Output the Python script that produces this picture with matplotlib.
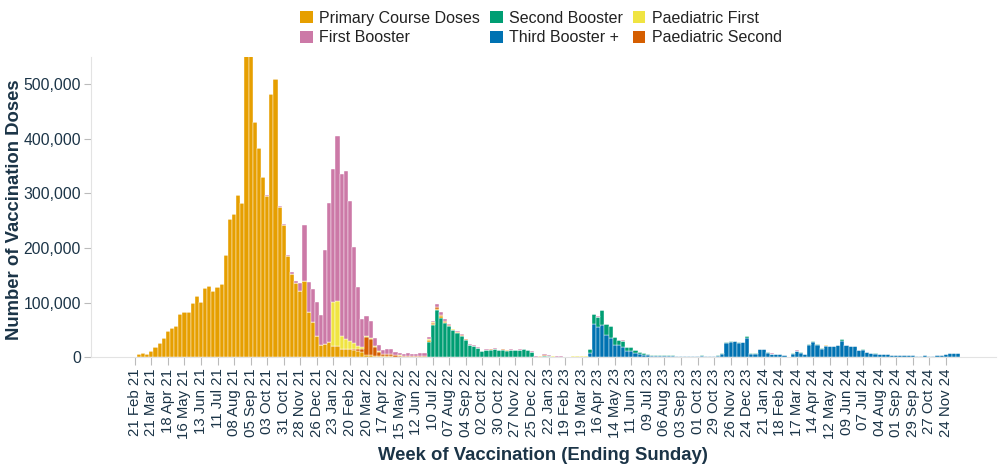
import numpy as np
import pandas as pd
import matplotlib
matplotlib.use("Agg")
import matplotlib.pyplot as plt
from matplotlib.patches import Patch
from matplotlib.ticker import FuncFormatter

# weekly doses (thousands), week ending Sunday, 21 Feb 21 -> 15 Dec 24 (200 weeks)
first_week = "2021-02-21"
n_weeks = 200

primary = ([0, 5.5, 8, 6.5, 12, 19, 27, 36, 48, 54,
            58, 80, 84, 83, 100, 112, 101, 127, 131, 121,
            128, 134, 187, 253, 263, 298, 282, 560, 560, 430,
            383, 331, 296, 482, 509, 276, 243, 186, 153, 137,
            121, 140, 84, 64, 39, 22, 24, 29, 21, 21,
            16, 14, 13, 12, 10, 8, 3, 2.5, 2, 1.5,
            1.2, 1.2, 1.2, 1, 1, 0.8, 1, 0.8, 0.8, 0.8,
            0.8, 2, 2, 2.5, 2, 1.5, 1, 0.5, 1, 1,
            0.7, 0.5, 0.5, 0.4, 0.3, 0.3, 0.3, 0.3, 0.3, 0.3,
            0.3, 0.3, 0.3, 0.3, 0.3, 0.3, 0.3, 0.2, 0.3, 0.5,
            0.3, 0.2, 0.2, 0.1, 0.1, 0.1, 0.2, 0.2, 0.2, 0.2,
            0.2, 0.3, 0.3, 0.3, 0.3, 0.3, 0.2, 0.2, 0.2, 0.1]
           + [0.1] * 80)

first_booster = ([0] * 32
                 + [2, 0.5, 0.5, 0.5, 1, 1.5, 2.5, 3,
                    16, 103, 53.5, 61, 62, 56, 172, 254, 244, 303,
                    296, 308, 256, 176, 108, 52, 36, 31, 15, 12,
                    7.5, 8.5, 9, 5, 4.5, 4, 5, 4.4, 4.4, 5.5,
                    5.8, 4.5, 3.5, 5, 5, 3.5, 2.5, 1, 1.5, 1.5,
                    1, 0.8, 0.7, 0.5, 0.3, 0.5, 0.5, 0.5, 0.5, 0.5,
                    0.5, 0.5, 0.5, 0.5, 0.5, 0.5, 1, 0.5, 0.8, 1.5,
                    1, 0.5, 0.5, 0.4, 0.3, 0.3, 0.5, 0.5, 0.5, 0.5,
                    0.2, 0.5, 0.5, 0.5, 0.5, 0.4, 0.3, 0.3, 0.3, 0.2]
                 + [0.1] * 80)

second_booster = ([0] * 51
                  + [1.5, 1.5, 1.5, 1.5, 1.5, 1.5, 1.5, 1, 1,
                     0.5, 0.5, 0.5, 0.3, 0.3, 0.3, 0.3, 0.3, 0.3, 0.3,
                     0.3, 29, 60, 87, 73, 63, 57, 50, 45, 39,
                     32, 22, 20, 17, 11, 13.5, 14, 15.5, 13, 14,
                     12.5, 13.5, 13, 13.5, 14.5, 13, 9.5, 1, 1.5, 3,
                     2.5, 1.2, 1, 1, 0.6, 0.6, 1.2, 1.2, 1.2, 1.3,
                     7, 17, 19.5, 26, 19.5, 21.5, 13, 9.5, 11.5, 7.5,
                     7.5, 6, 4, 2.5, 1.8, 1.5, 1.5, 1.4, 1.4, 1.4,
                     1.4, 1, 1, 0.8, 0.8, 0.8, 1, 1.2, 1, 0.8,
                     0.8, 1, 2, 2, 1.8, 1, 1, 1, 3.5, 0.5,
                     0.5, 0.5, 0.5, 0.5, 0.5, 0.3, 0.3, 0.3, 0.1, 0.5,
                     0.5, 0.5, 0.3, 1, 2.5, 1, 0.5, 0.8, 0.8, 0.8,
                     1, 3.5, 1, 0.8, 0.8, 0.5, 0.5, 0.3, 0.3, 0.3]
                  + [0.2] * 20)

third_booster = ([0] * 110
                 + [8.5, 62, 55, 60, 41, 36, 23.5, 22, 19, 11,
                    11, 7.6, 5.8, 5, 4.5, 3, 3, 2.5, 2.5, 2.5,
                    2.5, 2.3, 2.3, 1.8, 1.8, 1.8, 2.3, 2.7, 2.3, 1.8,
                    1.8, 3.5, 5.5, 25.5, 28, 29.5, 26.5, 27.5, 36, 7,
                    7, 15, 15.5, 9, 6.5, 6, 6, 3.7, 1.3, 7,
                    12, 9, 6, 23.5, 28, 23.5, 16.2, 21, 20, 20,
                    22.3, 29.3, 22.3, 20.7, 20, 13.3, 14.3, 10.2, 8.3, 7.1,
                    6.6, 6, 5.4, 4.8, 4.2, 3.6, 3.6, 3.6, 3.6, 2.3,
                    2.3, 3.6, 3, 3, 4.2, 4.2, 5.4, 7.2, 7.2, 7.2])

paed_first = ([0] * 48
              + [80, 82, 24, 18, 14, 10, 6, 3, 2, 1.5, 1, 0.5]
              + [0.3] * 11
              + [0.3, 0.5, 0.5, 0.5, 0.5, 0.5, 0.2, 0.2, 0.2, 0.2,
                 0.4, 0.5, 0.5, 0.2]
              + [0.2] * 12
              + [0.3, 0.3, 0.5, 0.3, 0.3, 0.3, 0.3, 0.3, 0.3, 0.3, 0.3, 0.3, 0.3]
              + [0] * 90)

paed_second = ([0] * 52
               + [1, 2, 3, 6, 33, 30, 16, 8,
                  4.5, 5, 5, 3, 2, 1.2, 1.5, 1.2, 1.2, 1,
                  1, 1.5, 1.5, 2, 2, 1.5, 1, 0.5, 0.5, 0.5,
                  0.3, 0.3, 0.3, 0.2, 0.2]
               + [0.2] * 12
               + [0.1] * 13
               + [0] * 90)

# bottom -> top stacking order
series = [
    ("Third Booster +", third_booster, "#0072B2"),
    ("Second Booster", second_booster, "#009E73"),
    ("Primary Course Doses", primary, "#E69F00"),
    ("Paediatric Second", paed_second, "#D55E00"),
    ("Paediatric First", paed_first, "#F0E442"),
    ("First Booster", first_booster, "#CC79A7"),
]
legend_order = ["Primary Course Doses", "First Booster", "Second Booster",
                "Third Booster +", "Paediatric First", "Paediatric Second"]

weeks = pd.date_range(first_week, periods=n_weeks, freq="7D")
x = np.arange(n_weeks)

plt.rcParams["font.family"] = ["Liberation Sans", "DejaVu Sans"]
text_col = "#1b3447"

fig = plt.figure(figsize=(10, 4.66), dpi=100)
ax = fig.add_axes([0.0905, 0.233, 0.905, 0.645])

bottom = np.zeros(n_weeks)
colors = {}
for name, vals, col in series:
    v = np.array(vals, dtype=float) * 1000
    ax.bar(x, v, bottom=bottom, width=1.0, color=col,
           edgecolor="white", linewidth=0.3)
    bottom += v
    colors[name] = col

ax.set_xlim(-10.7, 208)
ax.set_ylim(0, 550000)
ax.set_yticks(np.arange(0, 500001, 100000))
ax.yaxis.set_major_formatter(FuncFormatter(lambda v, p: f"{int(v):,}"))

tick_idx = x[::4]
ax.set_xticks(tick_idx)
ax.set_xticklabels([weeks[i].strftime("%d %b %y") for i in tick_idx], rotation=90)

for s in ["top", "right"]:
    ax.spines[s].set_visible(False)
for s in ["left", "bottom"]:
    ax.spines[s].set_color("#e3e3e3")
    ax.spines[s].set_linewidth(0.8)

ax.tick_params(axis="both", colors="#bbbbbb", labelcolor=text_col)
ax.tick_params(axis="x", length=6, pad=2, labelsize=10.8)
ax.tick_params(axis="y", length=5, pad=2, labelsize=11.3)

ax.set_xlabel("Week of Vaccination (Ending Sunday)", fontsize=13.3,
              fontweight="bold", color=text_col)
ax.set_ylabel("Number of Vaccination Doses", fontsize=13.3,
              fontweight="bold", color=text_col)
ax.xaxis.set_label_coords(0.5, -0.298)
ax.yaxis.set_label_coords(-0.075, 0.49)

handles = [Patch(facecolor=colors[n], edgecolor="none") for n in legend_order]
fig.legend(handles, legend_order, loc="center", bbox_to_anchor=(0.541, 0.94),
           ncol=3, frameon=False, fontsize=11.5, handlelength=0.8,
           handleheight=0.8, handletextpad=0.4, columnspacing=0.6,
           labelspacing=0.3, labelcolor="#222222")

fig.savefig("out.png", dpi=100)
